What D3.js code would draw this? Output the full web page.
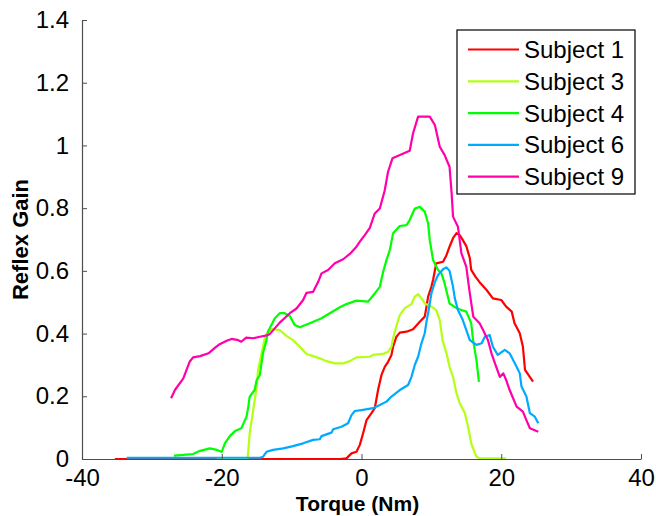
<!DOCTYPE html>
<html>
<head>
<meta charset="utf-8">
<script src="https://cdn.jsdelivr.net/npm/d3@7"></script>
<style>
  body { margin: 0; background: #fff; }
  svg { display: block; font-family: "Liberation Sans", Arial, sans-serif; }
</style>
</head>
<body>
<div id="chart"></div>
<script>
// values: [torque (Nm), reflex gain]
const subject1 = [[-35.3,0],[-3.1,0],[-2.15,0.002],[-1.43,0.018],[-0.72,0.023],[-0.24,0.045],[0.23,0.082],[0.72,0.124],[1.43,0.146],[1.9,0.162],[2.37,0.22],[2.86,0.268],[3.33,0.294],[3.8,0.31],[4.29,0.332],[4.52,0.358],[5.0,0.39],[5.48,0.403],[6.44,0.406],[7.38,0.414],[8.34,0.438],[9.05,0.454],[9.3,0.486],[9.53,0.518],[10.0,0.549],[10.24,0.571],[10.7,0.624],[11.67,0.629],[12.16,0.65],[12.6,0.677],[13.1,0.704],[13.6,0.72],[14.06,0.714],[14.5,0.698],[15.0,0.679],[15.5,0.641],[15.7,0.603],[16.35,0.58],[16.9,0.564],[17.9,0.539],[18.8,0.512],[20.0,0.507],[20.7,0.486],[21.5,0.47],[21.9,0.433],[22.65,0.401],[23.1,0.358],[23.4,0.284],[24.55,0.247]];

const subject3 = [[-20.7,0],[-16.3,0],[-16.0,0.082],[-15.5,0.156],[-15.0,0.231],[-14.8,0.284],[-14.3,0.337],[-13.8,0.39],[-13.4,0.403],[-12.9,0.414],[-11.7,0.411],[-10.7,0.392],[-9.8,0.379],[-8.83,0.358],[-7.87,0.335],[-6.92,0.328],[-5.97,0.321],[-5.0,0.312],[-3.82,0.305],[-2.63,0.305],[-1.67,0.312],[-0.72,0.324],[1.19,0.326],[1.66,0.332],[3.09,0.335],[3.8,0.342],[4.29,0.358],[4.52,0.385],[4.9,0.417],[5.48,0.459],[6.2,0.481],[7.15,0.494],[7.63,0.518],[8.1,0.526],[8.58,0.512],[9.05,0.496],[10.0,0.486],[10.7,0.475],[11.2,0.443],[11.6,0.379],[12.16,0.337],[12.6,0.294],[13.1,0.262],[13.6,0.209],[14.06,0.178],[14.8,0.146],[15.25,0.103],[15.7,0.05],[16.45,0.007],[16.9,0.002],[20.7,0.002]];

const subject4 = [[-26.85,0.011],[-25.5,0.013],[-24.1,0.016],[-23.1,0.026],[-21.7,0.034],[-20.7,0.029],[-20.0,0.023],[-19.55,0.05],[-18.85,0.073],[-18.1,0.089],[-17.2,0.098],[-16.45,0.135],[-16.2,0.167],[-16.0,0.199],[-15.3,0.22],[-15.0,0.252],[-14.55,0.268],[-14.1,0.337],[-13.6,0.379],[-13.4,0.406],[-12.4,0.449],[-11.7,0.465],[-11.0,0.465],[-10.25,0.456],[-9.55,0.427],[-8.83,0.42],[-7.4,0.433],[-5.72,0.449],[-4.53,0.465],[-3.1,0.484],[-2.15,0.494],[-0.72,0.505],[0.94,0.502],[1.9,0.528],[2.62,0.549],[3.09,0.596],[3.58,0.635],[4.05,0.666],[4.52,0.72],[5.48,0.743],[6.44,0.746],[6.9,0.762],[7.63,0.799],[8.34,0.804],[9.05,0.789],[9.53,0.752],[9.77,0.698],[10.24,0.635],[10.96,0.603],[11.44,0.592],[11.9,0.56],[12.6,0.496],[13.6,0.481],[14.3,0.475],[15.0,0.47],[15.7,0.433],[15.97,0.379],[16.45,0.316],[16.8,0.246]];

const subject6 = [[-33.6,0.004],[-14.55,0.004],[-14.1,0.007],[-13.6,0.023],[-12.65,0.029],[-11.2,0.034],[-9.8,0.041],[-8.35,0.05],[-6.92,0.061],[-5.97,0.063],[-5.72,0.073],[-4.3,0.084],[-4.06,0.095],[-2.86,0.103],[-1.92,0.114],[-1.43,0.14],[-0.96,0.153],[0,0.156],[1.66,0.162],[2.62,0.172],[3.58,0.183],[4.29,0.199],[5.48,0.22],[6.67,0.236],[7.15,0.262],[7.63,0.3],[8.1,0.326],[8.58,0.369],[9.05,0.401],[9.3,0.438],[9.53,0.465],[9.77,0.496],[10.0,0.528],[10.5,0.564],[10.96,0.587],[11.67,0.605],[12.16,0.611],[12.6,0.6],[13.1,0.549],[13.35,0.513],[13.8,0.475],[14.5,0.443],[15.0,0.411],[15.5,0.379],[16.45,0.364],[17.2,0.369],[17.65,0.39],[18.35,0.395],[18.8,0.358],[19.5,0.332],[20.5,0.348],[21.2,0.337],[22.2,0.294],[22.65,0.273],[22.9,0.231],[23.6,0.199],[24.1,0.146],[24.8,0.135],[25.3,0.114]];

const subject9 = [[-27.25,0.194],[-26.7,0.22],[-25.5,0.257],[-24.6,0.31],[-24.1,0.324],[-23.1,0.328],[-21.9,0.337],[-20.9,0.356],[-20.3,0.366],[-19.3,0.377],[-18.6,0.383],[-17.8,0.38],[-17.2,0.374],[-16.5,0.387],[-15.5,0.385],[-14.55,0.39],[-13.4,0.395],[-13.1,0.399],[-11.7,0.435],[-10.25,0.465],[-9.3,0.48],[-8.35,0.507],[-7.87,0.53],[-6.92,0.533],[-6.2,0.565],[-5.72,0.592],[-4.78,0.603],[-3.82,0.624],[-2.63,0.637],[-1.67,0.654],[-0.72,0.677],[-0.24,0.693],[0.47,0.714],[1.19,0.737],[1.9,0.783],[2.62,0.799],[3.33,0.857],[3.8,0.916],[4.43,0.959],[6.9,0.983],[7.38,1.039],[8.1,1.092],[9.77,1.092],[10.5,1.065],[11.2,0.996],[11.9,0.969],[12.6,0.932],[12.9,0.847],[13.1,0.773],[13.8,0.741],[14.3,0.656],[15.0,0.613],[15.5,0.528],[16.0,0.454],[16.9,0.433],[17.4,0.411],[18.1,0.379],[18.6,0.337],[19.1,0.305],[19.8,0.262],[20.3,0.273],[20.7,0.252],[21.2,0.22],[22.2,0.167],[23.1,0.151],[23.6,0.124],[24.1,0.098],[25.3,0.087]];

const seriesNames = ['Subject 1', 'Subject 3', 'Subject 4', 'Subject 6', 'Subject 9'];
const seriesData = [subject1, subject3, subject4, subject6, subject9];
const seriesColors = ['#ff0000', '#b4ff14', '#00ff00', '#00aaff', '#ff00aa'];

const xTicks = [-40, -20, 0, 20, 40];
const xTickLabels = ['-40', '-20', '0', '20', '40'];
const yTicks = [0, 0.2, 0.4, 0.6, 0.8, 1, 1.2, 1.4];
const yTickLabels = ['0', '0.2', '0.4', '0.6', '0.8', '1', '1.2', '1.4'];

const width = 656, height = 516;
const margin = { top: 20, right: 15, bottom: 57, left: 82 };

const svg = d3.select('#chart')
    .append('svg')
    .attr('width', width)
    .attr('height', height);

const x = d3.scaleLinear()
    .domain([-40, 40])
    .range([margin.left, width - margin.right]);

const y = d3.scaleLinear()
    .domain([0, 1.4])
    .range([height - margin.bottom, margin.top]);

const line = d3.line()
    .x(d => x(d[0]))
    .y(d => y(d[1]));

// curves
seriesData.forEach((values, i) => {
    svg.append('path')
        .datum(values)
        .attr('fill', 'none')
        .attr('stroke', seriesColors[i])
        .attr('stroke-width', 2.2)
        .attr('stroke-linejoin', 'round')
        .attr('d', line);
});

// axes (ticks point inward, like matlab)
const axisColor = '#4d4d4d';

const xAxis = svg.append('g')
    .attr('transform', `translate(0,${y(0)})`)
    .call(d3.axisBottom(x).tickValues(xTicks).tickFormat((d, i) => xTickLabels[i]).tickSizeInner(-5).tickSizeOuter(0).tickPadding(10));

const yAxis = svg.append('g')
    .attr('transform', `translate(${x(-40)},0)`)
    .call(d3.axisLeft(y).tickValues(yTicks).tickFormat((d, i) => yTickLabels[i]).tickSizeInner(-5).tickSizeOuter(0).tickPadding(13));

[xAxis, yAxis].forEach(g => {
    g.select('.domain').attr('stroke', axisColor).attr('stroke-width', 1.2);
    g.selectAll('.tick line').attr('stroke', axisColor);
    g.selectAll('.tick text')
        .attr('fill', '#000')
        .style('font-size', '24px')
        .style('font-family', '"Liberation Sans", Arial, sans-serif');
});

// axis titles
svg.append('text')
    .attr('x', x(0) - 4)
    .attr('y', 511)
    .attr('text-anchor', 'middle')
    .style('font-size', '21px')
    .style('font-weight', 'bold')
    .text('Torque (Nm)');

svg.append('text')
    .attr('transform', `translate(28,${y(0.7)}) rotate(-90)`)
    .attr('text-anchor', 'middle')
    .style('font-size', '22px')
    .style('font-weight', 'bold')
    .text('Reflex Gain');

// legend
const legend = svg.append('g').attr('transform', 'translate(457,30)');
legend.append('rect')
    .attr('width', 178)
    .attr('height', 164)
    .attr('fill', '#fff')
    .attr('stroke', '#000')
    .attr('stroke-width', 1.2);

seriesNames.forEach((name, i) => {
    const row = legend.append('g').attr('transform', `translate(0,${19.5 + i * 31.8})`);
    row.append('line')
        .attr('x1', 11).attr('x2', 62)
        .attr('stroke', seriesColors[i])
        .attr('stroke-width', 2.2);
    row.append('text')
        .attr('x', 67)
        .attr('dy', '0.35em')
        .style('font-size', '24px')
        .text(name);
});
</script>
</body>
</html>
